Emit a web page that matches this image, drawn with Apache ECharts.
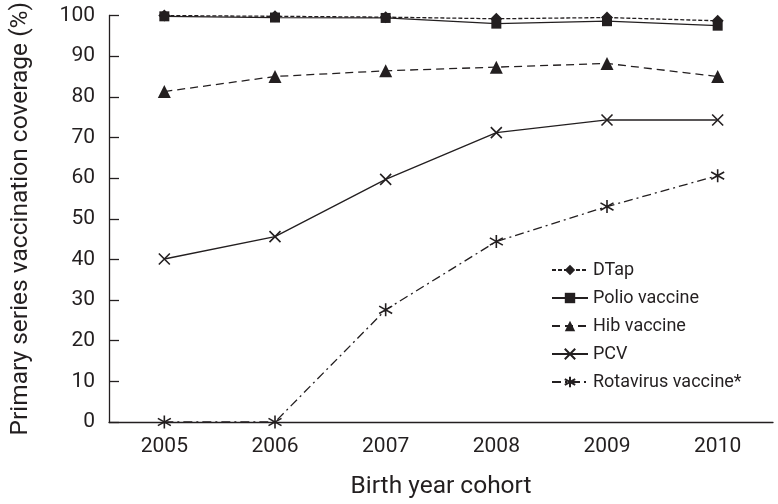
<!DOCTYPE html>
<html><head><meta charset="utf-8">
<script src="https://cdn.jsdelivr.net/npm/echarts@6/dist/echarts.min.js"></script>
<style>html,body{margin:0;padding:0;background:#fff}#c{width:778px;height:504px}</style>
</head><body><div id="c"></div>
<script>
var categories = ['2005','2006','2007','2008','2009','2010'];
var dtap = [100, 99.8, 99.6, 99.2, 99.5, 98.7];
var polio = [99.8, 99.5, 99.4, 98.0, 98.6, 97.5];
var hib = [81.3, 85.0, 86.4, 87.3, 88.2, 85.0];
var pcv = [40.1, 45.6, 59.7, 71.2, 74.3, 74.3];
var rota = [0, 0, 27.6, 44.4, 53.0, 60.6];
var yTicks = [0,10,20,30,40,50,60,70,80,90,100];

var ink = '#231f20';
var font = 'Roboto, sans-serif';
var xPath = 'path://M0,0L10,10M10,0L0,10';
var starPath = 'path://M5,0L5,10M0.8,2.2L9.2,7.8M9.2,2.2L0.8,7.8';

function mk(name, data, symbol, size, ltype, hollow) {
  return {
    name: name, type: 'line', data: data, symbol: symbol, symbolSize: size,
    showSymbol: true, animation: false,
    lineStyle: {color: ink, width: 1.3, type: ltype},
    itemStyle: hollow ? {color: 'rgba(0,0,0,0)', borderColor: ink, borderWidth: 1.6} : {color: ink, borderWidth: 0},
    z: 3
  };
}

var chart = echarts.init(document.getElementById('c'), null, {renderer: 'canvas'});
chart.setOption({
  animation: false,
  textStyle: {fontFamily: font, color: ink},
  grid: {left: 98, right: 5, top: 15, bottom: 80, containLabel: false},
  legend: {
    orient: 'vertical', left: 546, top: 256, itemWidth: 36, itemHeight: 13, itemGap: 10,
    textStyle: {fontFamily: font, fontSize: 18, color: ink},
    data: ['DTap','Polio vaccine','Hib vaccine','PCV','Rotavirus vaccine*']
  },
  xAxis: {
    type: 'category', data: categories, boundaryGap: true,
    name: 'Birth year cohort', nameLocation: 'middle', nameGap: 52,
    nameTextStyle: {fontFamily: font, fontSize: 24.5, color: ink},
    axisLine: {lineStyle: {color: ink, width: 1.3}},
    axisTick: {inside: true, length: 10, lineStyle: {color: ink, width: 1.3}},
    axisLabel: {fontFamily: font, fontSize: 21, color: ink, margin: 14},
    splitLine: {show: false}
  },
  yAxis: {
    type: 'value', min: 0, max: 100, interval: 10,
    name: 'Primary series vaccination coverage (%)', nameLocation: 'middle', nameGap: 76,
    nameTextStyle: {fontFamily: font, fontSize: 24.5, color: ink},
    axisLine: {show: true, lineStyle: {color: ink, width: 1.3}},
    axisTick: {show: true, inside: true, length: 10, lineStyle: {color: ink, width: 1.3}},
    axisLabel: {fontFamily: font, fontSize: 21, color: ink, margin: 14,
      formatter: function (v) { return yTicks.indexOf(v) >= 0 ? String(v) : ''; }},
    splitLine: {show: false}
  },
  series: [
    mk('DTap', dtap, 'diamond', 12, [4, 2], false),
    mk('Polio vaccine', polio, 'rect', 10, 'solid', false),
    mk('Hib vaccine', hib, 'triangle', 13, [8, 5], false),
    mk('PCV', pcv, xPath, 11, 'solid', true),
    mk('Rotavirus vaccine*', rota, starPath, 13, [9, 4, 2, 4], true)
  ]
});
</script></body></html>
